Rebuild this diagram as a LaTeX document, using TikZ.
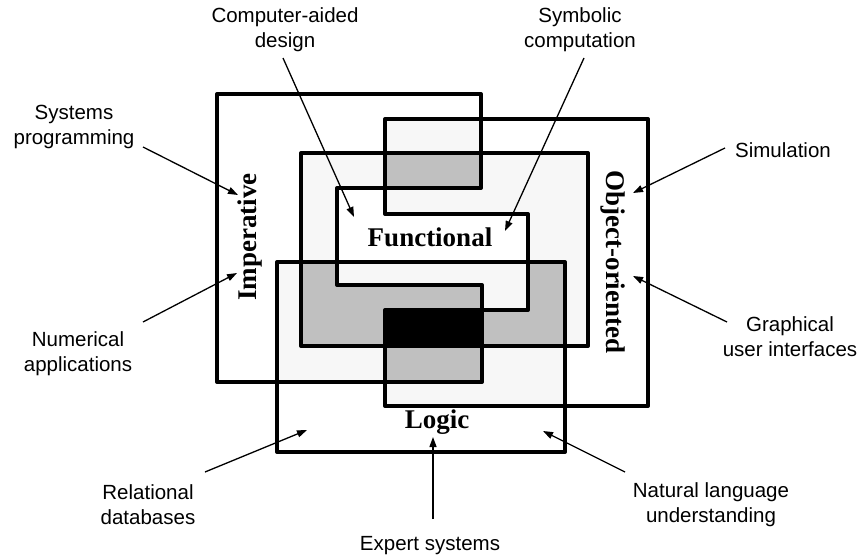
\documentclass[tikz,border=0pt]{standalone}
\usepackage{fontspec}
\setmainfont{Liberation Serif}
\setsansfont{Liberation Sans}
\usetikzlibrary{arrows.meta}
\definecolor{lightfill}{HTML}{F7F7F7}
\definecolor{midfill}{HTML}{C0C0C0}
\begin{document}
\begin{tikzpicture}[x=1pt,y=-1pt,
  outline/.style={line width=4pt, line join=round},
  pointer/.style={line width=1.3pt, -{Triangle[length=10pt,width=7pt]}},
  lab/.style={font=\sffamily\fontsize{20.5}{25}\selectfont, align=center, inner sep=0pt},
  para/.style={font=\fontsize{27}{30}\selectfont\bfseries, inner sep=0pt},
]
\useasboundingbox (0,0) rectangle (860,557);
\def\impP{(217,94) -- (481,94) -- (481,188) -- (337,188) -- (337,285) -- (482,285) -- (482,382) -- (217,382) -- cycle}
\def\objP{(385,119) -- (648,119) -- (648,406) -- (385,406) -- (385,310) -- (528,310) -- (528,214) -- (385,214) -- cycle}
\def\funP{(301,153) rectangle (588,346)}
\def\logP{(277,262) rectangle (565,452)}
% pairwise overlaps
\begin{scope}\clip \impP; \fill[lightfill] \objP; \end{scope}
\begin{scope}\clip \impP; \fill[lightfill] \funP; \end{scope}
\begin{scope}\clip \impP; \fill[lightfill] \logP; \end{scope}
\begin{scope}\clip \objP; \fill[lightfill] \funP; \end{scope}
\begin{scope}\clip \objP; \fill[lightfill] \logP; \end{scope}
\begin{scope}\clip \funP; \fill[lightfill] \logP; \end{scope}
% triple overlaps
\begin{scope}\clip \impP; \clip \objP; \fill[midfill] \funP; \end{scope}
\begin{scope}\clip \impP; \clip \objP; \fill[midfill] \logP; \end{scope}
\begin{scope}\clip \impP; \clip \funP; \fill[midfill] \logP; \end{scope}
\begin{scope}\clip \objP; \clip \funP; \fill[midfill] \logP; \end{scope}
% all four
\begin{scope}\clip \impP; \clip \objP; \clip \funP; \fill[black] \logP; \end{scope}
% outlines
\draw[outline] \impP;
\draw[outline] \objP;
\draw[outline] \funP;
\draw[outline] \logP;
% paradigm names
\node[para] (fun) at (430,237) {Functional};
\node[para] (logic) at (437,422) {Logic};
\node[para, rotate=90] (imp) at (250,237) {Imperative};
\node[para, rotate=-90] (obj) at (613,262) {Object-oriented};
% application labels
\node[lab] (cad) at (285,30) {Computer-aided\\design};
\node[lab] (sym) at (580,30) {Symbolic\\computation};
\node[lab] (sys) at (74,127) {Systems\\programming};
\node[lab] (sim) at (783,150) {Simulation};
\node[lab] (num) at (78,354) {Numerical\\applications};
\node[lab] (gui) at (790,337) {Graphical\\user interfaces};
\node[lab] (rel) at (148,505) {Relational\\databases};
\node[lab] (nat) at (711,505) {Natural language\\understanding};
\node[lab] (exp) at (430,546) {Expert systems};
% arrow end points
\coordinate (cadS) at (283,58);   \coordinate (cadE) at (354,217);
\coordinate (symS) at (584,58);   \coordinate (symE) at (505,231);
\coordinate (sysS) at (143,147);  \coordinate (sysE) at (238,195);
\coordinate (simS) at (725,148);  \coordinate (simE) at (633,193);
\coordinate (numS) at (143,322);  \coordinate (numE) at (237,273);
\coordinate (guiS) at (727,322);  \coordinate (guiE) at (633,276);
\coordinate (relS) at (205,472);  \coordinate (relE) at (307,430);
\coordinate (natS) at (625,472);  \coordinate (natE) at (543,431);
\coordinate (expS) at (433,519);  \coordinate (expE) at (433,437);
\draw[pointer] (cadS) -- (cadE);
\draw[pointer] (symS) -- (symE);
\draw[pointer] (sysS) -- (sysE);
\draw[pointer] (simS) -- (simE);
\draw[pointer] (numS) -- (numE);
\draw[pointer] (guiS) -- (guiE);
\draw[pointer] (relS) -- (relE);
\draw[pointer] (natS) -- (natE);
\draw[pointer] (expS) -- (expE);
\end{tikzpicture}
\end{document}
